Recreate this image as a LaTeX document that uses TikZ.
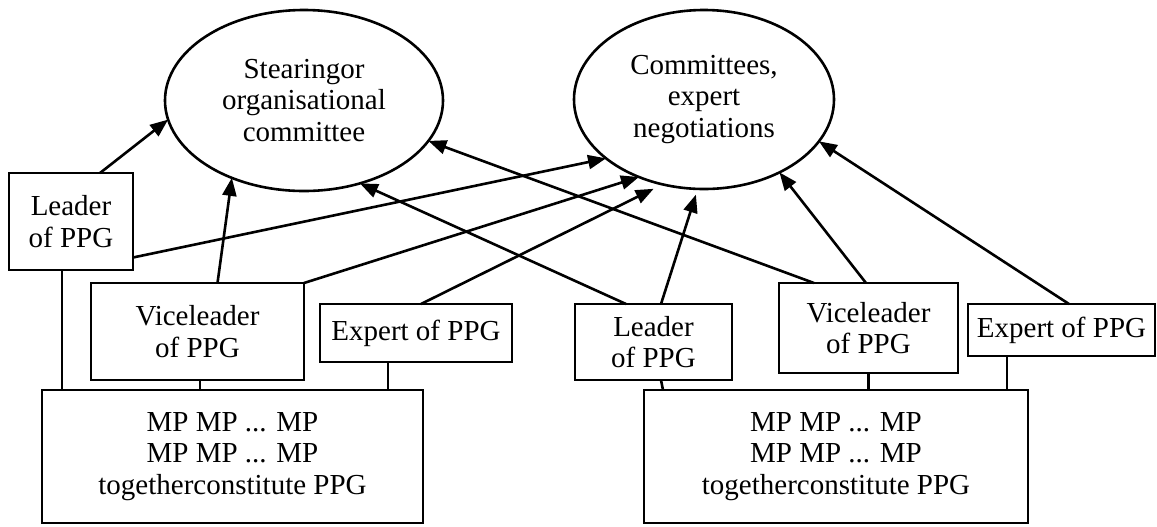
\documentclass[tikz,border=0pt]{standalone}
\usepackage{fontspec}
\setmainfont{Liberation Serif}
\usetikzlibrary{shapes.geometric}
\usetikzlibrary{arrows.meta,calc}
\tikzstyle{every node}=[font=\fontsize{14.5}{15.75}\selectfont]
\tikzstyle{every path}=[line width=1.3pt,line join=miter]
\tikzstyle{role}=[draw,rectangle,align=center,inner sep=0pt,outer sep=0pt]
\tikzstyle{body}=[draw,ellipse,align=center,inner sep=0pt,outer sep=0pt]
\tikzstyle{link}=[-{Triangle[length=9pt,width=7pt]}]

\begin{document}
\begin{tikzpicture}[x=0.5pt,y=-0.5pt]
  \useasboundingbox (0,0) rectangle (1157,526);
  % bodies of parliament
  \node[body,minimum width=139pt,minimum height=90.5pt] (steer) at (304,100.5)
    {Stearingor\\organisational\\committee};
  \node[body,minimum width=130pt,minimum height=89.5pt] (comm) at (704,99.5)
    {Committees,\\expert\\negotiations};
  % first group
  \node[role,minimum width=62pt,minimum height=48.5pt] (leadA) at (71,221.5) {Leader\\of PPG};
  \node[role,minimum width=106.5pt,minimum height=48.5pt] (viceA) at (197.5,331.5) {Viceleader\\of PPG};
  \node[role,minimum width=96pt,minimum height=29pt] (expA) at (416,333) {Expert of PPG};
  \node[role,minimum width=190.5pt,minimum height=66.5pt] (mpA) at (232.5,456.5)
    {MP MP ... MP\\MP MP ... MP\\togetherconstitute PPG};
  % second group
  \node[role,minimum width=78.5pt,minimum height=38pt] (leadB) at (653.5,342) {Leader\\of PPG};
  \node[role,minimum width=89.5pt,minimum height=45pt] (viceB) at (868.5,328) {Viceleader\\of PPG};
  \node[role,minimum width=93.5pt,minimum height=26pt] (expB) at (1061.5,330) {Expert of PPG};
  \node[role,minimum width=192pt,minimum height=66.5pt] (mpB) at (836,456.5)
    {MP MP ... MP\\MP MP ... MP\\togetherconstitute PPG};
  % members to their PPG
  \draw ([xshift=-4.5pt]leadA.south) -- ([xshift=-4.5pt]leadA.south |- mpA.north);
  \draw ([xshift=1.25pt]viceA.south) -- ([xshift=1.25pt]viceA.south |- mpA.north);
  \draw ([xshift=-14pt]expA.south) -- ([xshift=-14pt]expA.south |- mpA.north);
  \draw ([xshift=3.75pt]leadB.south) -- ([xshift=4.75pt]leadB.south |- mpB.north);
  \draw (viceB.south) -- (viceB.south |- mpB.north);
  \draw ([xshift=-27.25pt]expB.south) -- ([xshift=-27.25pt]expB.south |- mpB.north);
  % delegation
  \draw[link] ([xshift=14.5pt]leadA.north) -- (steer.188);
  \draw[link] ([yshift=-18pt]leadA.east) -- (comm.211);
  \draw[link] ([xshift=10pt]viceA.north) -- (steer.227);
  \draw[link] (viceA.north east) -- (comm.230);
  \draw[link,shorten >=5pt] ([xshift=2.5pt]expA.north) -- (comm.244);
  \draw[link] ([xshift=-13.75pt]leadB.north) -- (steer.304);
  \draw[link,shorten >=3pt] ([xshift=3.75pt]leadB.north) -- (comm.266);
  \draw[link] ([xshift=-27.25pt]viceB.north) -- (steer.342);
  \draw[link] ([xshift=-1.25pt]viceB.north) -- (comm.316);
  \draw[link] ([xshift=3.75pt]expB.north) -- (comm.340);
\end{tikzpicture}
\end{document}
